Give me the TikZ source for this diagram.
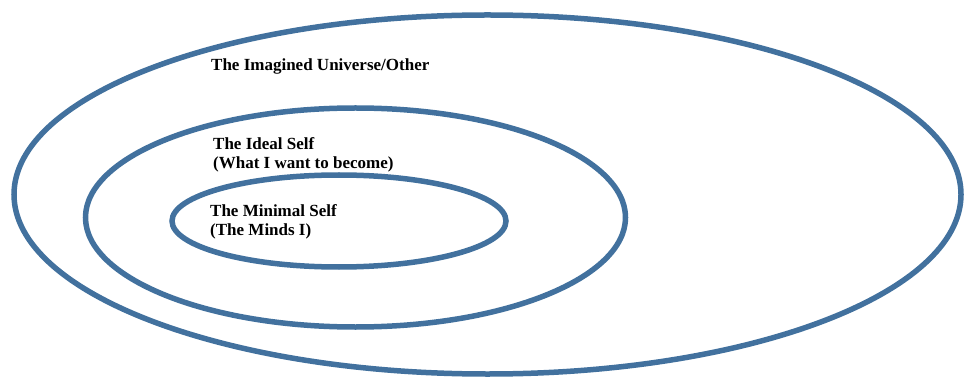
\documentclass[tikz,border=0pt]{standalone}
\usepackage{fontspec}
\setmainfont{Liberation Serif}
\definecolor{ringblue}{RGB}{66,113,158}
\tikzset{
  ring/.style={draw=ringblue,line width=5.5pt},
  caption/.style={anchor=base west,inner sep=0pt,align=left,font=\fontsize{17}{19}\selectfont\bfseries}
}
\begin{document}
\begin{tikzpicture}[x=1pt,y=-1pt]
  \useasboundingbox (0,0) rectangle (965,379);

  % Nested rings: outer, ideal, minimal
  \foreach \name/\cx/\cy/\rx/\ry in {universe/487.5/194.5/473.5/179.5, ideal/355.5/217.5/270/109.5, minimal/339/221/167/46} {
    \coordinate (\name) at (\cx,\cy);
    \draw[ring] (\name) ellipse ({\rx} and {\ry});
  }

  % Labels (base anchor sits on the last line)
  \node[caption] (universelabel) at (211,71) {The Imagined Universe/Other};
  \node[caption] (ideallabel) at (213,169) {The Ideal Self\\(What I want to become)};
  \node[caption] (minimallabel) at (210,236) {The Minimal Self\\(The Minds I)};
\end{tikzpicture}
\end{document}
